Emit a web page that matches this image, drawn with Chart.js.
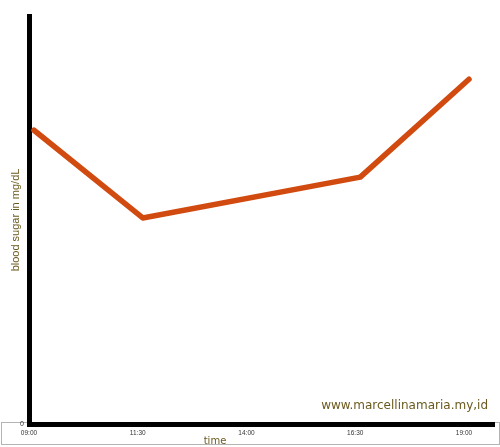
<!DOCTYPE html>
<html><head><meta charset="utf-8">
<script src="https://cdn.jsdelivr.net/npm/chart.js@4"></script>
<style>html,body{margin:0;padding:0;background:#fff;} canvas{display:block}</style>
</head><body>
<canvas id="c" width="500" height="447"></canvas>
<script>
// ---- data ----
const pointTimes = [9, 11.5, 16.5, 19];          // hours of day of each reading
const bloodSugar = [144, 101, 121, 169];         // mg/dL
const tickHours = [9, 11.5, 14, 16.5, 19];
const tickLabels = ['09:00', '11:30', '14:00', '16:30', '19:00'];
const yTicks = [0];
const xTitle = 'time';
const yTitle = 'blood sugar in mg/dL';
const watermark = 'www.marcellinamaria.my,id';

const olive = '#6b5a1e';

const decor = {
  id: 'decor',
  beforeDraw(chart) {
    const ctx = chart.ctx;
    ctx.save();
    ctx.fillStyle = '#fff';
    ctx.fillRect(0, 0, chart.width, chart.height);
    ctx.strokeStyle = '#b4b4b4';
    ctx.lineWidth = 1;
    ctx.strokeRect(1.5, 422.5, 498, 22);
    ctx.restore();
  },
  afterDraw(chart) {
    const ctx = chart.ctx, a = chart.chartArea;
    ctx.save();
    ctx.fillStyle = olive;
    ctx.textBaseline = 'alphabetic';
    ctx.font = '12px "DejaVu Sans"';
    ctx.textAlign = 'right';
    ctx.fillText(watermark, a.right - 6, a.bottom - 15);
    ctx.font = '10px "DejaVu Sans"';
    ctx.textAlign = 'center';
    ctx.fillText(xTitle, a.left + 186, a.bottom + 20);
    ctx.restore();
  }
};

new Chart(document.getElementById('c'), {
  type: 'line',
  data: {
    datasets: [{
      data: pointTimes.map((x, i) => ({ x: x, y: bloodSugar[i] })),
      borderColor: '#d14a0f',
      borderWidth: 5.5,
      pointRadius: 0,
      tension: 0,
      borderJoinStyle: 'round',
      borderCapStyle: 'round',
      fill: false
    }]
  },
  options: {
    responsive: false,
    animation: false,
    devicePixelRatio: 1,
    layout: { padding: { top: 16, right: 6, left: 0, bottom: 0 } },
    plugins: { legend: { display: false }, tooltip: { enabled: false } },
    scales: {
      x: {
        type: 'linear', min: 8.885, max: 19.575,
        grid: { display: false, drawTicks: false },
        border: { display: true, color: '#000', width: 5 },
        afterBuildTicks: s => { s.ticks = tickHours.map(v => ({ value: v })); },
        afterFit: s => { s.height = 23; },
        ticks: {
          callback: (v, i) => tickLabels[i],
          font: { family: 'Liberation Sans', size: 6.5 },
          color: '#333', padding: 5, labelOffset: -5,
          maxRotation: 0, autoSkip: false
        }
      },
      y: {
        min: 0, max: 200,
        grid: { display: false, drawTicks: false },
        border: { display: true, color: '#000', width: 5 },
        afterBuildTicks: s => { s.ticks = yTicks.map(v => ({ value: v })); },
        afterFit: s => { s.width = 29; },
        ticks: { font: { family: 'Liberation Sans', size: 7 }, color: '#333', padding: 5 },
        title: {
          display: true, text: yTitle, color: olive,
          font: { family: 'Liberation Sans', size: 11, lineHeight: 1 },
          padding: { top: 10.5, bottom: 0 }
        }
      }
    }
  },
  plugins: [decor]
});
</script>
</body></html>
